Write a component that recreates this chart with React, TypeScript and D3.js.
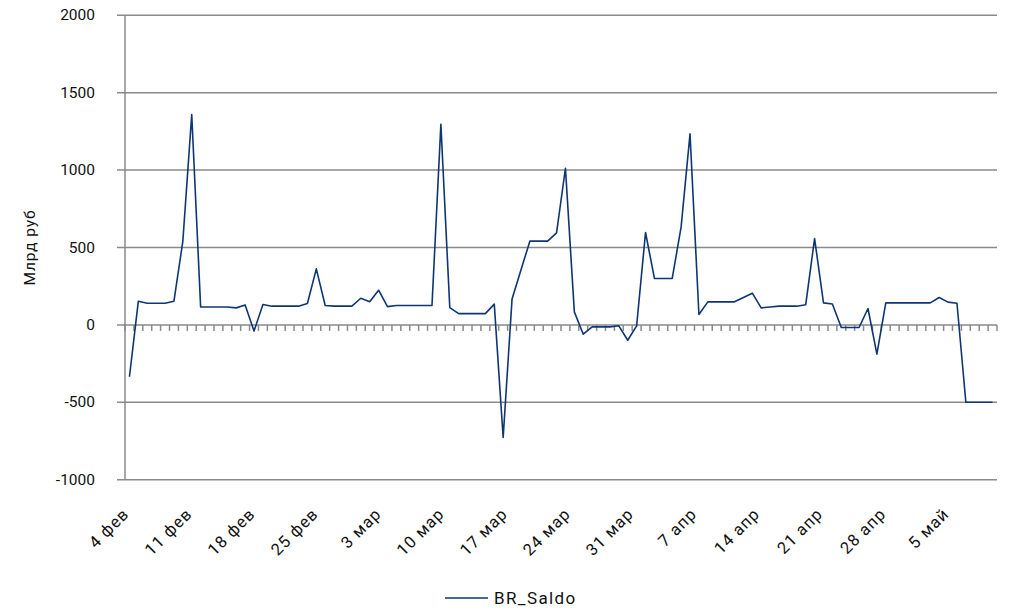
import React from "react";
import * as d3 from "d3";

const seriesName = "BR_Saldo";
const yTitle = "Млрд руб";
const yTicks = [-1000, -500, 0, 500, 1000, 1500, 2000];
const tickLabels = ["4 фев", "11 фев", "18 фев", "25 фев", "3 мар", "10 мар", "17 мар", "24 мар", "31 мар", "7 апр", "14 апр", "21 апр", "28 апр", "5 май"];
const labelEvery = 7;
const values = [
  -335, 153, 140, 140, 140, 153, 540, 1359, 116, 116,
  116, 116, 110, 129, -40, 132, 121, 121, 121, 121,
  138, 362, 125, 121, 121, 121, 172, 150, 224, 118,
  125, 125, 125, 125, 125, 1296, 112, 73, 73, 73,
  73, 134, -727, 168, 355, 541, 541, 541, 594, 1012,
  84, -60, -13, -13, -13, -6, -99, -6, 597, 300,
  300, 300, 633, 1234, 67, 149, 149, 149, 149, 177,
  205, 110, 116, 121, 121, 121, 130, 558, 142, 135,
  -17, -17, -17, 106, -189, 142, 142, 142, 142, 142,
  142, 177, 147, 140, -500, -500, -500, -500,
];

const W = 1011, H = 611;
const M = { left: 125, right: 997, top: 15.3, bottom: 479.7 };
const FONT = "Roboto, 'Noto Sans', sans-serif";
const GRID = "#8a8a8a";
const LINE = "#0e3675";

export default function App() {
  const idx = values.map((_, i) => i);
  const x = d3.scaleBand<number>().domain(idx).range([M.left, M.right]).paddingInner(0).paddingOuter(0);
  const bw = x.bandwidth();
  const cx = (i: number) => (x(i) as number) + bw / 2;
  const y = d3.scaleLinear().domain([-1000, 2000]).range([M.bottom, M.top]);
  const labelX = d3.scaleLinear().domain([0, 91]).range([130, 950]);

  const line = d3.line<number>().x((_, i) => cx(i)).y((d) => y(d));
  const edges = d3.range(values.length + 1).map((i) => M.left + i * bw);

  return (
    <div style={{ position: "absolute", left: 0, top: 0 }}>
      <svg width={W} height={H} style={{ display: "block", background: "#fff" }} fontFamily={FONT}>
        {yTicks.map((t) => (
          <g key={t}>
            <line x1={M.left - 8} x2={M.right} y1={y(t)} y2={y(t)} stroke={GRID} strokeWidth={1.5} />
            <text x={95} y={y(t)} textAnchor="end" dominantBaseline="central" fontSize={15.5} fill="#111">{t}</text>
          </g>
        ))}
        <line x1={M.left} x2={M.left} y1={M.top} y2={M.bottom} stroke={GRID} strokeWidth={1.5} />
        {edges.map((e, i) => (
          <line key={i} x1={e} x2={e} y1={y(0)} y2={y(0) + 6} stroke={GRID} strokeWidth={1.5} />
        ))}
        <path d={line(values) as string} fill="none" stroke={LINE} strokeWidth={1.6} strokeLinejoin="round" />
        {tickLabels.map((lab, k) => {
          const lx = labelX(k * labelEvery);
          const ly = 515;
          return (
            <text key={lab} x={lx} y={ly} textAnchor="end" transform={`rotate(-45 ${lx} ${ly})`} fontSize={16.5} letterSpacing={1} fill="#111">{lab}</text>
          );
        })}
        <text transform={`translate(30 ${(M.top + M.bottom) / 2}) rotate(-90)`} textAnchor="middle" dominantBaseline="central" fontSize={15.5} letterSpacing={0.9} fill="#111">{yTitle}</text>
        <line x1={445} x2={488} y1={598} y2={598} stroke={LINE} strokeWidth={1.6} />
        <text x={494} y={598} dominantBaseline="central" fontSize={17} letterSpacing={1.4} fill="#111">{seriesName}</text>
      </svg>
    </div>
  );
}
